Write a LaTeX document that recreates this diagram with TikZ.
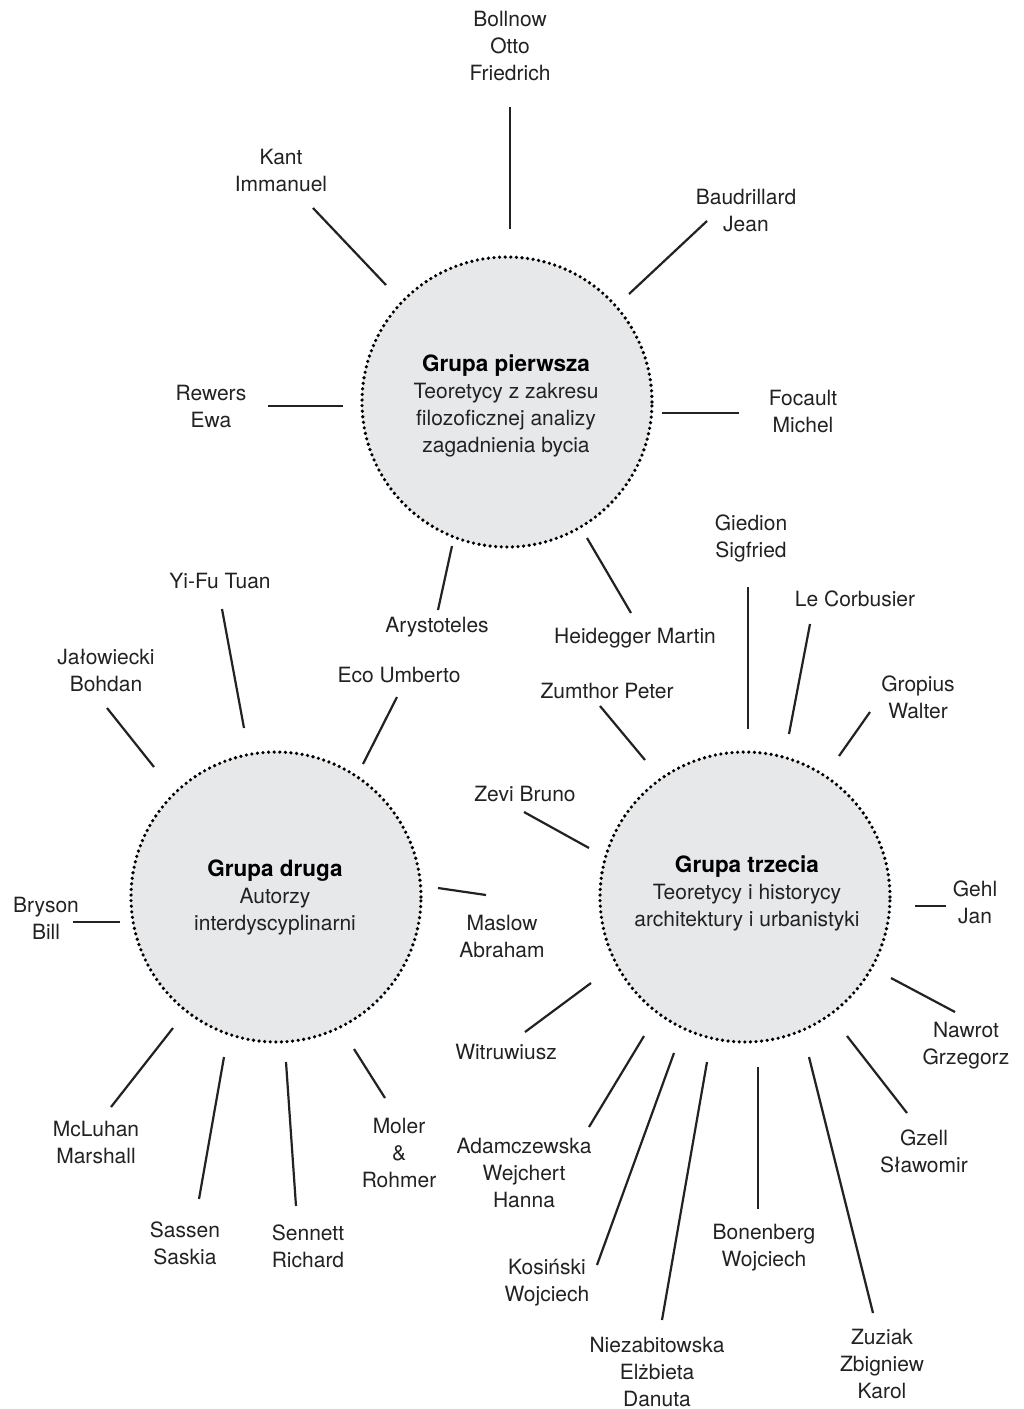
\documentclass[tikz,border=0pt]{standalone}
\usepackage{fontspec}
\setmainfont{TeX Gyre Heros}
\definecolor{circfill}{HTML}{E7E8EA}
\definecolor{ink}{HTML}{222222}
\newcommand{\grouphead}[1]{{\fontsize{22.5}{27}\selectfont\bfseries\color{black}#1}}
\begin{document}
\begin{tikzpicture}[x=1pt,y=-1pt,
  person/.style={font=\fontsize{21}{27}\selectfont, align=center, inner sep=0pt, text=ink},
  grp/.style={circle, fill=circfill, draw=black, line width=3.6pt, dash pattern=on 0pt off 5.6pt, line cap=round,
    minimum size=290pt, inner sep=0pt},
  grptext/.style={align=center, inner sep=0pt, font=\fontsize{21}{27}\selectfont, text=ink},
  link/.style={draw=ink, line width=2.2pt}]
\useasboundingbox[fill=white] (0,0) rectangle (1024,1409);

% group circles
\node[grp] (g1) at (507,402) {};
\node[grp] (g2) at (276,897) {};
\node[grp] (g3) at (745,897) {};
\node[grptext] (g1text) at (506,406) {\grouphead{Grupa pierwsza}\\Teoretycy z zakresu\\filozoficznej analizy\\zagadnienia bycia};
\node[grptext] (g2text) at (275,897) {\grouphead{Grupa druga}\\Autorzy\\interdyscyplinarni};
\node[grptext] (g3text) at (747,893) {\grouphead{Grupa trzecia}\\Teoretycy i historycy\\architektury i urbanistyki};

% group 1 names
\node[person] (bollnow) at (510,46) {Bollnow\\Otto\\Friedrich};
\node[person] (kant) at (281,170.5) {Kant\\Immanuel};
\node[person] (baudrillard) at (746,210.5) {Baudrillard\\Jean};
\node[person] (rewers) at (211,406.5) {Rewers\\Ewa};
\node[person] (focault) at (803,411) {Focault\\Michel};
\node[person] (arystoteles) at (437,627) {Arystoteles};
\node[person] (heidegger) at (635,638) {Heidegger Martin};

% group 2 names
\node[person] (yifu) at (220,581) {Yi-Fu Tuan};
\node[person] (jalowiecki) at (106,670.5) {Jałowiecki\\Bohdan};
\node[person] (eco) at (399,675) {Eco Umberto};
\node[person] (bryson) at (46,918) {Bryson\\Bill};
\node[person] (maslow) at (502,936) {Maslow\\Abraham};
\node[person] (mcluhan) at (96,1142.5) {McLuhan\\Marshall};
\node[person] (sassen) at (185,1243) {Sassen\\Saskia};
\node[person] (sennett) at (308,1246) {Sennett\\Richard};
\node[person] (moler) at (399,1153) {Moler\\\&\\Rohmer};

% group 3 names
\node[person] (giedion) at (751,538.5) {Giedion\\Sigfried};
\node[person] (lecorbusier) at (855,599) {Le Corbusier};
\node[person] (gropius) at (918,697.5) {Gropius\\Walter};
\node[person] (zumthor) at (607,691) {Zumthor Peter};
\node[person] (zevi) at (525,794) {Zevi Bruno};
\node[person] (gehl) at (975,902) {Gehl\\Jan};
\node[person] (witruwiusz) at (506,1052) {Witruwiusz};
\node[person] (nawrot) at (966,1045.5) {Nawrot\\Grzegorz};
\node[person] (adamczewska) at (524,1172.5) {Adamczewska\\Wejchert\\Hanna};
\node[person] (kosinski) at (547,1283) {Kosiński\\Wojciech};
\node[person] (niezabitowska) at (657,1372) {Niezabitowska\\Elżbieta\\Danuta};
\node[person] (bonenberg) at (764,1247.5) {Bonenberg\\Wojciech};
\node[person] (zuziak) at (882,1364) {Zuziak\\Zbigniew\\Karol};
\node[person] (gzell) at (924,1151.5) {Gzell\\Sławomir};

% connectors
\foreach \n/\ax/\ay/\bx/\by in {
  kant/313/208/386/285, bollnow/510/107/510/229, baudrillard/707/221/629/294,
  rewers/268/406/343/406, focault/662/413/739/413, arystoteles/452/546/438/610,
  heidegger/587/538/631/613,
  yifu/222/609/244/728, jalowiecki/107/708/154/767, eco/397/697/363/764,
  bryson/73/922/120/922, maslow/438/888/486/895, mcluhan/173/1028/111/1107,
  sassen/224/1057/199/1199, sennett/286/1062/296/1206, moler/354/1049/385/1098,
  zumthor/600/706/645/760, giedion/748/587/748/729, lecorbusier/810/624/789/734,
  gropius/870/712/839/756, zevi/524/812/589/848, gehl/915/906/946/906,
  witruwiusz/591/983/525/1032, nawrot/891/978/955/1012, adamczewska/644/1036/589/1127,
  kosinski/674/1053/597/1265, niezabitowska/707/1062/662/1320, bonenberg/758/1067/758/1209,
  zuziak/809/1057/873/1313, gzell/847/1036/907/1113}
{
  \coordinate (\n-a) at (\ax,\ay);
  \coordinate (\n-b) at (\bx,\by);
  \draw[link] (\n-a) -- (\n-b);
}
\end{tikzpicture}
\end{document}
